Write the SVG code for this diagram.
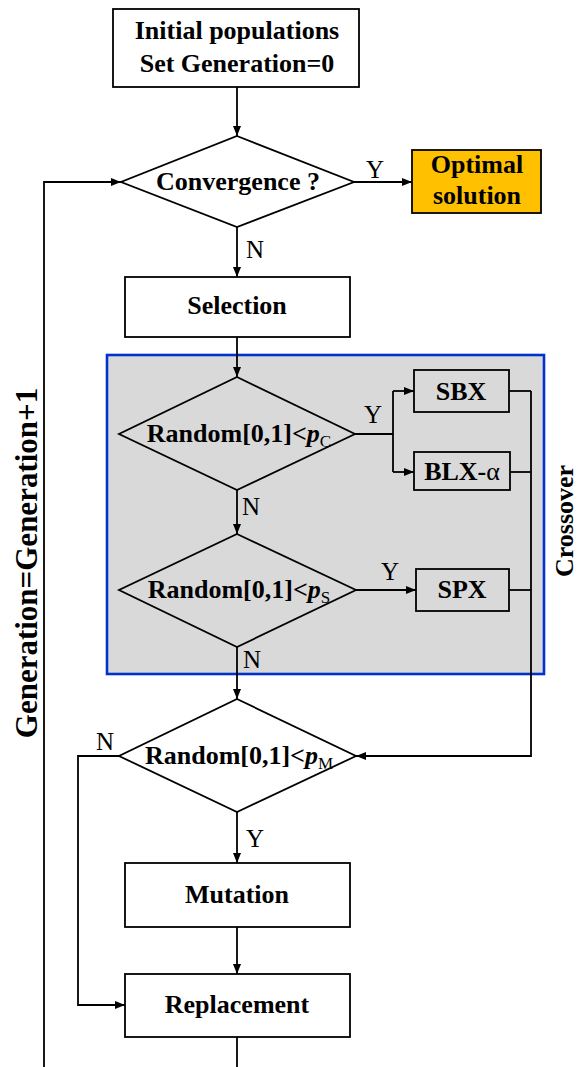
<svg xmlns="http://www.w3.org/2000/svg" width="582" height="1067" viewBox="0 0 582 1067">
<defs>
<marker id="ah" viewBox="0 0 10 8" refX="10" refY="4" markerWidth="10" markerHeight="8" markerUnits="userSpaceOnUse" orient="auto">
<path d="M0,0 L10,4 L0,8 Z" fill="#000"/>
</marker>
<style>
.box{fill:#fff;stroke:#000;stroke-width:1.8}
.gbox{fill:#D9D9D9;stroke:#000;stroke-width:1.8}
.dia{fill:none;stroke:#000;stroke-width:1.8}
.ln{fill:none;stroke:#000;stroke-width:1.8}
.ar{fill:none;stroke:#000;stroke-width:1.8;marker-end:url(#ah)}
.t{font-family:"Liberation Serif","Times New Roman",serif;font-weight:bold;font-size:26px;fill:#000;text-anchor:middle}
.lab{font-family:"Liberation Serif","Times New Roman",serif;font-size:25px;fill:#000}
.it{font-style:italic}
.sub{font-weight:normal;font-size:17px}
</style>
</defs>
<rect width="582" height="1067" fill="#fff"/>
<g id="crossover-region">
<rect x="107" y="355" width="437" height="319" fill="#D9D9D9" stroke="#0033CC" stroke-width="2.6"/>
<text class="t" transform="translate(573,521) rotate(-90)">Crossover</text>
</g>
<g id="loop-label">
<text class="t" style="font-size:31px" transform="translate(37,563) rotate(-90)">Generation=Generation+1</text>
</g>
<g id="connectors">
<line class="ar" x1="237" y1="87" x2="237" y2="136"/>
<line class="ar" x1="354" y1="182" x2="412" y2="182"/>
<line class="ar" x1="237" y1="227" x2="237" y2="277"/>
<line class="ar" x1="237" y1="337" x2="237" y2="377"/>
<polyline class="ln" points="355,434 393,434"/>
<line class="ln" x1="393" y1="391" x2="393" y2="472"/>
<line class="ar" x1="393" y1="391" x2="414" y2="391"/>
<line class="ar" x1="393" y1="472" x2="414" y2="472"/>
<line class="ln" x1="509" y1="391" x2="531" y2="391"/>
<line class="ln" x1="510" y1="472" x2="531" y2="472"/>
<line class="ln" x1="509" y1="590" x2="531" y2="590"/>
<polyline class="ar" points="531,391 531,756 356,756"/>
<line class="ar" x1="237" y1="490" x2="237" y2="534"/>
<line class="ar" x1="356" y1="590" x2="416" y2="590"/>
<line class="ar" x1="237" y1="647" x2="237" y2="699"/>
<polyline class="ar" points="119,756 78,756 78,1005 125,1005"/>
<line class="ar" x1="237" y1="812" x2="237" y2="863"/>
<line class="ar" x1="237" y1="927" x2="237" y2="974"/>
<line class="ln" x1="237" y1="1037" x2="237" y2="1067"/>
<polyline class="ar" points="44,1067 44,182 121,182"/>
<text class="lab" x="366" y="178">Y</text>
<text class="lab" x="246" y="258">N</text>
<text class="lab" x="364" y="423">Y</text>
<text class="lab" x="242" y="515">N</text>
<text class="lab" x="381" y="580">Y</text>
<text class="lab" x="243" y="668">N</text>
<text class="lab" x="96" y="750">N</text>
<text class="lab" x="246" y="847">Y</text>
</g>
<g id="init">
<rect class="box" x="113" y="9" width="246" height="78"/>
<text class="t" x="237" y="39">Initial populations</text>
<text class="t" x="237" y="72">Set Generation=0</text>
</g>
<g id="convergence">
<polygon class="dia" points="237,136 354,182 237,227 121,182" fill="#fff" style="fill:#fff"/>
<text class="t" x="238" y="190">Convergence ?</text>
</g>
<g id="optimal">
<rect x="412" y="150" width="129" height="63" fill="#FFC000" stroke="#000" stroke-width="1.8"/>
<text class="t" x="477" y="173">Optimal</text>
<text class="t" x="477" y="204">solution</text>
</g>
<g id="selection">
<rect class="box" x="125" y="277" width="225" height="60"/>
<text class="t" x="237" y="314">Selection</text>
</g>
<g id="dec-pc">
<polygon class="dia" points="237,377 355,434 237,490 119,434"/>
<text class="t" x="239" y="442">Random[0,1]&lt;<tspan class="it">p</tspan><tspan class="sub" dy="5">C</tspan></text>
</g>
<g id="sbx">
<rect class="gbox" x="414" y="370" width="95" height="42"/>
<text class="t" x="461" y="400">SBX</text>
</g>
<g id="blx">
<rect class="gbox" x="414" y="452" width="96" height="38"/>
<text class="t" x="462" y="480">BLX-<tspan font-weight="normal">α</tspan></text>
</g>
<g id="dec-ps">
<polygon class="dia" points="237,534 356,590 237,647 119,590"/>
<text class="t" x="239" y="598">Random[0,1]&lt;<tspan class="it">p</tspan><tspan class="sub" dy="5">S</tspan></text>
</g>
<g id="spx">
<rect class="gbox" x="416" y="569" width="93" height="42"/>
<text class="t" x="462" y="598">SPX</text>
</g>
<g id="dec-pm">
<polygon class="dia" points="237,699 356,756 237,812 119,756" style="fill:#fff"/>
<text class="t" x="239" y="764">Random[0,1]&lt;<tspan class="it">p</tspan><tspan class="sub" dy="5">M</tspan></text>
</g>
<g id="mutation">
<rect class="box" x="125" y="863" width="225" height="64"/>
<text class="t" x="237" y="903">Mutation</text>
</g>
<g id="replacement">
<rect class="box" x="125" y="974" width="225" height="63"/>
<text class="t" x="237" y="1013">Replacement</text>
</g>
</svg>
